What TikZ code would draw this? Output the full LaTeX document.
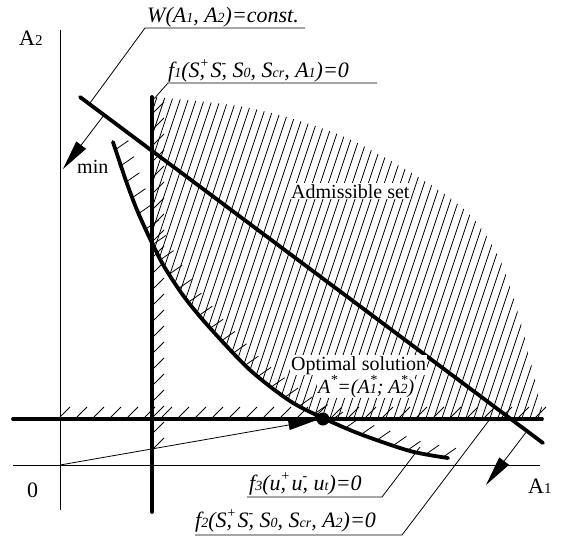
\documentclass[tikz,border=0pt]{standalone}
\usepackage{fontspec}
\setmainfont{Liberation Serif}
\usetikzlibrary{arrows.meta}
\newcommand{\lsub}[1]{{\fontsize{14}{14}\selectfont #1}}
\newcommand{\lsubb}[1]{{\fontsize{15}{15}\selectfont #1}}
\newcommand{\lsup}[1]{\rlap{\raisebox{0.45em}{\fontsize{14}{14}\selectfont #1}}}
\newcommand{\lsupx}[1]{\raisebox{0.45em}{\fontsize{14}{14}\selectfont #1}}
\begin{document}
\begin{tikzpicture}[x=1pt,y=-1pt,
  bold/.style={line width=3.8pt,line cap=round},
  axisline/.style={line width=0.9pt},
  hatchln/.style={line width=0.8pt},
  leader/.style={line width=0.8pt},
  uplbl/.style={anchor=base west,inner sep=0pt,font=\fontsize{20}{24}\selectfont},
  axlbl/.style={anchor=base west,inner sep=0pt,font=\fontsize{22}{26}\selectfont},
  itlbl/.style={anchor=base west,inner sep=0pt,font=\fontsize{22}{26}\selectfont\itshape},
  minarrow/.style={line width=0.8pt,-{Triangle[length=30pt,width=12pt]}}
]
\useasboundingbox (0,0) rectangle (564,539);

% named coordinates
\coordinate (ayT) at (60,30);  \coordinate (ayB) at (60,510);
\coordinate (axL) at (13,465); \coordinate (axR) at (540,465);
\coordinate (O) at (60,465);
\coordinate (hL) at (13,419);  \coordinate (hR) at (542,419);
\coordinate (vT) at (152,97);  \coordinate (vB) at (152,512);
\coordinate (wS) at (80,97);   \coordinate (wE) at (543,443);

% thin axes
\draw[axisline] (ayT) -- (ayB);
\draw[axisline] (axL) -- (axR);

% hatching of the admissible set
\begin{scope}
  \clip (154,95) -- plot[smooth] coordinates {(154,97) (250,108) (340,135) (420,178) (470,215) (500,260) (520,320) (535,380) (544,417)} -- (154,417) -- cycle;
  \clip plot[smooth] coordinates {(113,142) (125,178) (137,210) (152,243) (165,268) (185,298) (210,328) (250,370) (290,401) (323,418) (360,434) (410,451) (448,458)} -- (600,458) -- (600,0) -- (113,0) -- cycle;
  \foreach \i in {0,...,72} \draw[hatchln] ({30+8*\i},430) -- ({145+8*\i},85);
\end{scope}

% ticks on the constraint lines
\foreach \x in {60,77,...,536} \draw[hatchln] (\x,417) -- ++(10,-10);
\foreach \y in {112,128,...,462} \draw[hatchln] (154,\y) -- ++(10,-10);
\foreach \tx/\ty in {115.5/149.6, 120.9/165.7, 126.4/181.8, 132.4/197.7, 138.6/213.6, 145.7/229.0,
  152.8/244.5, 160.6/259.6, 169.2/274.2, 178.6/288.4, 188.5/302.1, 199.3/315.2, 210.2/328.2,
  221.9/340.5, 233.6/352.8, 245.4/365.1, 258.1/376.3, 271.6/386.7, 285/397.1, 299.5/405.9,
  314.6/413.7, 330/421, 345.6/427.8, 361.2/434.4, 377.3/439.9, 393.4/445.4, 407.5/450.2,
  426.2/454, 443/457.1}
  \draw[hatchln] (\tx,\ty) -- ++(13,-9);

% bold lines
\draw[bold] (hL) -- (hR);
\draw[bold] (vT) -- (vB);
\draw[bold] (wS) -- (wE);
\draw[bold] plot[smooth] coordinates {(113,142) (125,178) (137,210) (152,243) (165,268) (185,298) (210,328) (250,370) (290,401) (323,418) (360,434) (410,451) (448,458)};

% optimal point and arrow from origin
\node[circle,fill=black,inner sep=0pt,minimum size=13pt] (opt) at (323,419) {};
\draw[line width=0.8pt,-{Triangle[length=28pt,width=10pt]}] (O) -- (opt);

% min arrows
\coordinate (m1s) at (104,115); \coordinate (m1e) at (63,169);
\coordinate (m2s) at (527,431); \coordinate (m2e) at (486,485);
\draw[minarrow] (m1s) -- (m1e);
\draw[minarrow] (m2s) -- (m2e);

% labels
\node[axlbl] (lA2) at (19,45) {A\lsubb{2}};
\node[axlbl] (l0) at (27,497) {0};
\node[axlbl] (lA1) at (528,493) {A\lsubb{1}};
\node[uplbl] (lmin) at (77,173) {min};
\node[uplbl,fill=white,inner sep=1pt] (adm) at (290,198) {Admissible set};
\node[uplbl,fill=white,inner sep=1pt] (opt1) at (290,370) {Optimal solution};
\node[uplbl,fill=white,inner sep=1pt,font=\fontsize{20}{24}\selectfont\itshape] (opt2) at (317,393) {A\lsupx{*}=(A\lsup{*}\lsub{1}; A\lsup{*}\lsub{2})};

\node[itlbl] (lW) at (147,22) {W(A\lsub{1}, A\lsub{2})=const.};
\node[itlbl] (lf1) at (168,77) {f\lsub{1}(S\lsup{+}, S\lsup{-}, S\lsub{0}, S\lsub{cr}, A\lsub{1})=0};
\node[itlbl] (lf3) at (249,490) {f\lsub{3}(u\lsup{+}, u\lsup{-}, u\lsub{t})=0};
\node[itlbl] (lf2) at (195,527) {f\lsub{2}(S\lsup{+}, S\lsup{-}, S\lsub{0}, S\lsub{cr}, A\lsub{2})=0};

% underlines and leaders
\coordinate (uW1) at (145,28);  \coordinate (uW2) at (305,28);  \coordinate (tW) at (90,103);
\coordinate (u11) at (168,83);  \coordinate (u12) at (377,83);  \coordinate (t1) at (153,100);
\coordinate (u31) at (247,497); \coordinate (u32) at (382,497); \coordinate (t3) at (420,447);
\coordinate (u21) at (195,535); \coordinate (u22) at (402,535); \coordinate (t2) at (490,419);
\draw[leader] (uW2) -- (uW1) -- (tW);
\draw[leader] (u12) -- (u11) -- (t1);
\draw[leader] (u31) -- (u32) -- (t3);
\draw[leader] (u21) -- (u22) -- (t2);
\end{tikzpicture}
\end{document}
